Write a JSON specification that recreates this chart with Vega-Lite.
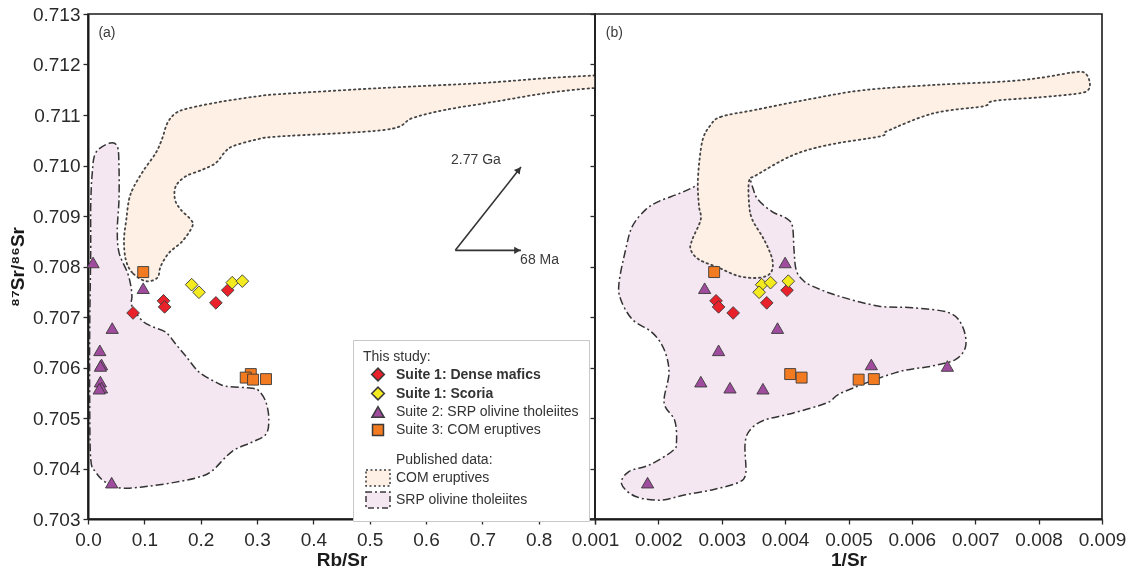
{
  "$schema": "https://vega.github.io/schema/vega-lite/v6.json",
  "autosize": {"type": "pad"},
  "padding": {"left": 7, "top": 4, "right": 5, "bottom": 0},
  "background": "white",
  "bounds": "flush",
  "spacing": 0,
  "config": {
    "font": "Liberation Sans",
    "view": {"stroke": "#1a1a1a", "strokeWidth": 1.6},
    "axis": {
      "labelFont": "Liberation Sans", "labelFontSize": 19, "labelColor": "#2a2a2a",
      "labelFlush": false, "labelOverlap": false, "labelPadding": 6,
      "tickColor": "#2a2a2a", "tickSize": 5, "tickWidth": 1.3,
      "domainColor": "#1a1a1a", "domainWidth": 2, "grid": false,
      "titleFont": "Liberation Sans", "titleFontSize": 19, "titleFontWeight": "bold", "titleColor": "#1a1a1a"
    },
    "legend": {
      "orient": "none", "legendX": 265, "legendY": 326,
      "titleFont": "Liberation Sans", "titleFontSize": 14, "titleFontWeight": "normal", "titleColor": "#333333", "titlePadding": 3,
      "labelFont": "Liberation Sans", "labelFontSize": 14, "labelColor": "#333333", "labelLimit": 320, "labelOffset": 9,
      "symbolOffset": 6, "rowPadding": 0, "padding": 10,
      "strokeColor": "#c8c8c8", "fillColor": "#ffffff"
    }
  },
  "datasets": {
    "samples": [
      {"group": "Suite 1: Dense mafics", "rbsr": 0.248, "invsr": 0.00403, "sr": 0.70753},
      {"group": "Suite 1: Dense mafics", "rbsr": 0.227, "invsr": 0.00371, "sr": 0.70728},
      {"group": "Suite 1: Dense mafics", "rbsr": 0.134, "invsr": 0.00291, "sr": 0.70732},
      {"group": "Suite 1: Dense mafics", "rbsr": 0.136, "invsr": 0.00295, "sr": 0.70720},
      {"group": "Suite 1: Dense mafics", "rbsr": 0.080, "invsr": 0.00318, "sr": 0.70708},
      {"group": "Suite 1: Scoria", "rbsr": 0.184, "invsr": 0.00363, "sr": 0.70764},
      {"group": "Suite 1: Scoria", "rbsr": 0.197, "invsr": 0.00359, "sr": 0.70749},
      {"group": "Suite 1: Scoria", "rbsr": 0.256, "invsr": 0.00377, "sr": 0.70768},
      {"group": "Suite 1: Scoria", "rbsr": 0.274, "invsr": 0.00405, "sr": 0.70771},
      {"group": "Suite 2: SRP olivine tholeiites", "rbsr": 0.009, "invsr": 0.00400, "sr": 0.70808},
      {"group": "Suite 2: SRP olivine tholeiites", "rbsr": 0.098, "invsr": 0.00273, "sr": 0.70757},
      {"group": "Suite 2: SRP olivine tholeiites", "rbsr": 0.043, "invsr": 0.00388, "sr": 0.70678},
      {"group": "Suite 2: SRP olivine tholeiites", "rbsr": 0.021, "invsr": 0.00295, "sr": 0.70634},
      {"group": "Suite 2: SRP olivine tholeiites", "rbsr": 0.024, "invsr": 0.00536, "sr": 0.70606},
      {"group": "Suite 2: SRP olivine tholeiites", "rbsr": 0.022, "invsr": 0.00656, "sr": 0.70603},
      {"group": "Suite 2: SRP olivine tholeiites", "rbsr": 0.022, "invsr": 0.00267, "sr": 0.70572},
      {"group": "Suite 2: SRP olivine tholeiites", "rbsr": 0.024, "invsr": 0.00313, "sr": 0.70560},
      {"group": "Suite 2: SRP olivine tholeiites", "rbsr": 0.020, "invsr": 0.00365, "sr": 0.70558},
      {"group": "Suite 2: SRP olivine tholeiites", "rbsr": 0.042, "invsr": 0.00183, "sr": 0.70372},
      {"group": "Suite 3: COM eruptives", "rbsr": 0.098, "invsr": 0.00288, "sr": 0.70789},
      {"group": "Suite 3: COM eruptives", "rbsr": 0.289, "invsr": 0.00408, "sr": 0.70587},
      {"group": "Suite 3: COM eruptives", "rbsr": 0.280, "invsr": 0.00426, "sr": 0.70580},
      {"group": "Suite 3: COM eruptives", "rbsr": 0.293, "invsr": 0.00516, "sr": 0.70576},
      {"group": "Suite 3: COM eruptives", "rbsr": 0.316, "invsr": 0.00540, "sr": 0.70577}
    ],
    "srp_a": [
      {"i": 1, "x": 0.0137, "y": 0.71025}, {"i": 2, "x": 0.0373, "y": 0.71044}, {"i": 3, "x": 0.052, "y": 0.71038},
      {"i": 4, "x": 0.055, "y": 0.70998}, {"i": 5, "x": 0.055, "y": 0.70932}, {"i": 6, "x": 0.052, "y": 0.70873},
      {"i": 7, "x": 0.055, "y": 0.70828}, {"i": 8, "x": 0.070, "y": 0.70788}, {"i": 9, "x": 0.076, "y": 0.70762},
      {"i": 10, "x": 0.078, "y": 0.70741}, {"i": 11, "x": 0.078, "y": 0.70722}, {"i": 12, "x": 0.096, "y": 0.70693},
      {"i": 13, "x": 0.114, "y": 0.70681}, {"i": 14, "x": 0.138, "y": 0.70670}, {"i": 15, "x": 0.156, "y": 0.70646},
      {"i": 16, "x": 0.174, "y": 0.70622}, {"i": 17, "x": 0.197, "y": 0.70591}, {"i": 18, "x": 0.227, "y": 0.70571},
      {"i": 19, "x": 0.245, "y": 0.70563}, {"i": 20, "x": 0.291, "y": 0.70559}, {"i": 21, "x": 0.304, "y": 0.70553},
      {"i": 22, "x": 0.316, "y": 0.70531}, {"i": 23, "x": 0.321, "y": 0.70498}, {"i": 24, "x": 0.316, "y": 0.70468},
      {"i": 25, "x": 0.291, "y": 0.70452}, {"i": 26, "x": 0.256, "y": 0.70434}, {"i": 27, "x": 0.220, "y": 0.70395},
      {"i": 28, "x": 0.197, "y": 0.70383}, {"i": 29, "x": 0.156, "y": 0.70373}, {"i": 30, "x": 0.108, "y": 0.70365},
      {"i": 31, "x": 0.061, "y": 0.70361}, {"i": 32, "x": 0.031, "y": 0.70373}, {"i": 33, "x": 0.0137, "y": 0.70393},
      {"i": 34, "x": 0.0048, "y": 0.70419}, {"i": 35, "x": 0.003, "y": 0.70537}, {"i": 36, "x": 0.003, "y": 0.70676},
      {"i": 37, "x": 0.0048, "y": 0.70828}, {"i": 38, "x": 0.0048, "y": 0.70919}, {"i": 39, "x": 0.0076, "y": 0.70986}
    ],
    "com_a": [
      {"i": 1, "x": 0.1025, "y": 0.70771}, {"i": 2, "x": 0.0787, "y": 0.707876}, {"i": 3, "x": 0.0670, "y": 0.708138},
      {"i": 4, "x": 0.0639, "y": 0.708534}, {"i": 5, "x": 0.0680, "y": 0.708929}, {"i": 6, "x": 0.0728, "y": 0.709324},
      {"i": 7, "x": 0.0817, "y": 0.709587}, {"i": 8, "x": 0.0995, "y": 0.709917}, {"i": 9, "x": 0.1202, "y": 0.710247},
      {"i": 10, "x": 0.1320, "y": 0.710543}, {"i": 11, "x": 0.1409, "y": 0.71084}, {"i": 12, "x": 0.1558, "y": 0.711038},
      {"i": 13, "x": 0.1794, "y": 0.711136}, {"i": 14, "x": 0.2385, "y": 0.711267}, {"i": 15, "x": 0.2979, "y": 0.711366},
      {"i": 16, "x": 0.3393, "y": 0.711413}, {"i": 17, "x": 0.5169, "y": 0.711532}, {"i": 18, "x": 0.6945, "y": 0.71163},
      {"i": 19, "x": 0.8130, "y": 0.711729}, {"i": 20, "x": 0.8957, "y": 0.711781}, {"i": 21, "x": 0.95, "y": 0.711814},
      {"i": 22, "x": 0.95, "y": 0.711557}, {"i": 23, "x": 0.8957, "y": 0.711532}, {"i": 24, "x": 0.8130, "y": 0.711433},
      {"i": 25, "x": 0.7242, "y": 0.711267}, {"i": 26, "x": 0.6353, "y": 0.711103}, {"i": 27, "x": 0.5760, "y": 0.710939},
      {"i": 28, "x": 0.5288, "y": 0.710708}, {"i": 29, "x": 0.3393, "y": 0.710575}, {"i": 30, "x": 0.2979, "y": 0.71051},
      {"i": 31, "x": 0.2563, "y": 0.710377}, {"i": 32, "x": 0.2416, "y": 0.710247}, {"i": 33, "x": 0.2268, "y": 0.710049},
      {"i": 34, "x": 0.2030, "y": 0.709917}, {"i": 35, "x": 0.1735, "y": 0.709785}, {"i": 36, "x": 0.1558, "y": 0.709587},
      {"i": 37, "x": 0.1545, "y": 0.709324}, {"i": 38, "x": 0.1647, "y": 0.709126}, {"i": 39, "x": 0.1824, "y": 0.708929},
      {"i": 40, "x": 0.1853, "y": 0.708796}, {"i": 41, "x": 0.1675, "y": 0.7085}, {"i": 42, "x": 0.1439, "y": 0.708271},
      {"i": 43, "x": 0.1291, "y": 0.708006}, {"i": 44, "x": 0.1231, "y": 0.707777}
    ],
    "com_b": [
      {"i": 1, "x": 0.002818, "y": 0.710789}, {"i": 2, "x": 0.002985, "y": 0.710964}, {"i": 3, "x": 0.003545, "y": 0.711105},
      {"i": 4, "x": 0.004385, "y": 0.711314}, {"i": 5, "x": 0.005224, "y": 0.71149}, {"i": 6, "x": 0.006343, "y": 0.711595},
      {"i": 7, "x": 0.007462, "y": 0.711664}, {"i": 8, "x": 0.008022, "y": 0.711735}, {"i": 9, "x": 0.008525, "y": 0.71184},
      {"i": 10, "x": 0.008721, "y": 0.71184}, {"i": 11, "x": 0.008804, "y": 0.711664}, {"i": 12, "x": 0.008778, "y": 0.71149},
      {"i": 13, "x": 0.008582, "y": 0.711419}, {"i": 14, "x": 0.008022, "y": 0.71135}, {"i": 15, "x": 0.007294, "y": 0.711279},
      {"i": 16, "x": 0.007127, "y": 0.711174}, {"i": 17, "x": 0.006343, "y": 0.711034}, {"i": 18, "x": 0.005615, "y": 0.710684},
      {"i": 19, "x": 0.005503, "y": 0.710579}, {"i": 20, "x": 0.004664, "y": 0.710403}, {"i": 21, "x": 0.004105, "y": 0.710194},
      {"i": 22, "x": 0.003545, "y": 0.709808}, {"i": 23, "x": 0.003433, "y": 0.709702}, {"i": 24, "x": 0.00343, "y": 0.709259},
      {"i": 25, "x": 0.003482, "y": 0.708929}, {"i": 26, "x": 0.003667, "y": 0.708534}, {"i": 27, "x": 0.003798, "y": 0.708138},
      {"i": 28, "x": 0.003772, "y": 0.707875}, {"i": 29, "x": 0.003588, "y": 0.707777}, {"i": 30, "x": 0.003272, "y": 0.707808},
      {"i": 31, "x": 0.002957, "y": 0.707974}, {"i": 32, "x": 0.002641, "y": 0.708138}, {"i": 33, "x": 0.00251, "y": 0.708336},
      {"i": 34, "x": 0.002535, "y": 0.708534}, {"i": 35, "x": 0.002668, "y": 0.708929}, {"i": 36, "x": 0.002641, "y": 0.709192},
      {"i": 37, "x": 0.002622, "y": 0.709632}, {"i": 38, "x": 0.00265, "y": 0.710123}, {"i": 39, "x": 0.002706, "y": 0.710543}
    ],
    "srp_b": [
      {"i": 1, "x": 0.003321, "y": 0.710213}, {"i": 2, "x": 0.003405, "y": 0.709913}, {"i": 3, "x": 0.00349, "y": 0.709561},
      {"i": 4, "x": 0.003572, "y": 0.709324}, {"i": 5, "x": 0.003793, "y": 0.709087}, {"i": 6, "x": 0.004009, "y": 0.708962},
      {"i": 7, "x": 0.004113, "y": 0.70881}, {"i": 8, "x": 0.00414, "y": 0.708336}, {"i": 9, "x": 0.004172, "y": 0.707941},
      {"i": 10, "x": 0.004271, "y": 0.707743}, {"i": 11, "x": 0.004429, "y": 0.707611}, {"i": 12, "x": 0.00485, "y": 0.707413},
      {"i": 13, "x": 0.005481, "y": 0.707215}, {"i": 14, "x": 0.006007, "y": 0.707184}, {"i": 15, "x": 0.006586, "y": 0.707085},
      {"i": 16, "x": 0.006796, "y": 0.70682}, {"i": 17, "x": 0.006849, "y": 0.706425}, {"i": 18, "x": 0.006692, "y": 0.706162},
      {"i": 19, "x": 0.006322, "y": 0.70603}, {"i": 20, "x": 0.005745, "y": 0.705899}, {"i": 21, "x": 0.004902, "y": 0.705504},
      {"i": 22, "x": 0.004664, "y": 0.705302}, {"i": 23, "x": 0.004105, "y": 0.705091}, {"i": 24, "x": 0.003657, "y": 0.704951},
      {"i": 25, "x": 0.003433, "y": 0.704741}, {"i": 26, "x": 0.003367, "y": 0.704461}, {"i": 27, "x": 0.003378, "y": 0.703899},
      {"i": 28, "x": 0.003266, "y": 0.703725}, {"i": 29, "x": 0.002875, "y": 0.703585}, {"i": 30, "x": 0.002426, "y": 0.70348},
      {"i": 31, "x": 0.002035, "y": 0.703374}, {"i": 32, "x": 0.001642, "y": 0.703445}, {"i": 33, "x": 0.00142, "y": 0.70369},
      {"i": 34, "x": 0.00153, "y": 0.703935}, {"i": 35, "x": 0.001866, "y": 0.704075}, {"i": 36, "x": 0.002231, "y": 0.704356},
      {"i": 37, "x": 0.002286, "y": 0.70453}, {"i": 38, "x": 0.002258, "y": 0.704951}, {"i": 39, "x": 0.00209, "y": 0.705302},
      {"i": 40, "x": 0.002168, "y": 0.705899}, {"i": 41, "x": 0.002089, "y": 0.70636}, {"i": 42, "x": 0.001904, "y": 0.70669},
      {"i": 43, "x": 0.001589, "y": 0.706953}, {"i": 44, "x": 0.001406, "y": 0.707348}, {"i": 45, "x": 0.001379, "y": 0.707678},
      {"i": 46, "x": 0.001484, "y": 0.708336}, {"i": 47, "x": 0.001589, "y": 0.708796}, {"i": 48, "x": 0.0018, "y": 0.709126},
      {"i": 49, "x": 0.00201, "y": 0.709291}, {"i": 50, "x": 0.002325, "y": 0.709443}, {"i": 51, "x": 0.002594, "y": 0.709601},
      {"i": 52, "x": 0.002846, "y": 0.709818}, {"i": 53, "x": 0.003097, "y": 0.710194}
    ],
    "arrows": [
      {"name": "2.77 Ga", "x": 0.652, "y": 0.70832, "x2": 0.7686, "y2": 0.70997},
      {"name": "68 Ma", "x": 0.652, "y": 0.70832, "x2": 0.7686, "y2": 0.70832}
    ],
    "heads": [
      {"name": "2.77 Ga", "x": 0.7647, "y": 0.709915},
      {"name": "68 Ma", "x": 0.7623, "y": 0.70832}
    ],
    "notes_a": [
      {"text": "2.77 Ga", "x": 0.6886, "y": 0.710115},
      {"text": "68 Ma", "x": 0.8016, "y": 0.708125},
      {"text": "(a)", "x": 0.0337, "y": 0.71262}
    ],
    "notes_b": [
      {"text": "(b)", "x": 0.001306, "y": 0.71262}
    ]
  },
  "hconcat": [
    {
      "width": 507,
      "height": 505,
      "layer": [
        {
          "data": {"name": "srp_a"},
          "mark": {"type": "line", "interpolate": "cardinal-closed", "fill": "#f5e7f1", "stroke": "#333333", "strokeWidth": 1.5, "strokeDash": [8, 3, 2, 3], "clip": true, "blend": "multiply"},
          "encoding": {
            "x": {"field": "x", "type": "quantitative", "scale": {"domain": [0, 0.9], "nice": false, "zero": false},
                  "axis": {"values": [0, 0.1, 0.2, 0.3, 0.4, 0.5, 0.6, 0.7, 0.8, 0.9], "format": ".1f", "labelExpr": "datum.value > 0.85 ? '' : datum.label", "titlePadding": 1}, "title": "Rb/Sr"},
            "y": {"field": "y", "type": "quantitative", "scale": {"domain": [0.703, 0.713], "nice": false, "zero": false},
                  "axis": {"values": [0.703, 0.704, 0.705, 0.706, 0.707, 0.708, 0.709, 0.71, 0.711, 0.712, 0.713], "format": ".3f", "labelPadding": 3, "titlePadding": 5}, "title": "⁸⁷Sr/⁸⁶Sr"},
            "order": {"field": "i", "type": "quantitative"}
          }
        },
        {
          "data": {"name": "com_a"},
          "mark": {"type": "line", "interpolate": "cardinal-closed", "fill": "#fef0e4", "stroke": "#444444", "strokeWidth": 1.8, "strokeDash": [1.5, 3.5], "strokeCap": "round", "clip": true, "blend": "multiply"},
          "encoding": {
            "x": {"field": "x", "type": "quantitative", "title": "Rb/Sr"},
            "y": {"field": "y", "type": "quantitative", "title": "⁸⁷Sr/⁸⁶Sr"},
            "order": {"field": "i", "type": "quantitative"}
          }
        },
        {
          "data": {"name": "arrows"},
          "mark": {"type": "rule", "color": "#333333", "strokeWidth": 1.6},
          "encoding": {
            "x": {"field": "x", "type": "quantitative", "title": "Rb/Sr"},
            "y": {"field": "y", "type": "quantitative", "title": "⁸⁷Sr/⁸⁶Sr"},
            "x2": {"field": "x2"},
            "y2": {"field": "y2"}
          }
        },
        {
          "data": {"name": "heads"},
          "transform": [{"filter": "datum.name === '2.77 Ga'"}],
          "mark": {"type": "point", "shape": "triangle-right", "filled": true, "color": "#333333", "size": 55, "angle": 308, "opacity": 1},
          "encoding": {
            "x": {"field": "x", "type": "quantitative", "title": "Rb/Sr"},
            "y": {"field": "y", "type": "quantitative", "title": "⁸⁷Sr/⁸⁶Sr"}
          }
        },
        {
          "data": {"name": "heads"},
          "transform": [{"filter": "datum.name === '68 Ma'"}],
          "mark": {"type": "point", "shape": "triangle-right", "filled": true, "color": "#333333", "size": 55, "opacity": 1},
          "encoding": {
            "x": {"field": "x", "type": "quantitative", "title": "Rb/Sr"},
            "y": {"field": "y", "type": "quantitative", "title": "⁸⁷Sr/⁸⁶Sr"}
          }
        },
        {
          "data": {"name": "notes_a"},
          "mark": {"type": "text", "font": "Liberation Sans", "fontSize": 14, "color": "#3a3a3a", "align": "center", "baseline": "middle"},
          "encoding": {
            "x": {"field": "x", "type": "quantitative", "title": "Rb/Sr"},
            "y": {"field": "y", "type": "quantitative", "title": "⁸⁷Sr/⁸⁶Sr"},
            "text": {"field": "text"}
          }
        },
        {
          "data": {"name": "samples"},
          "mark": {"type": "point", "filled": true, "stroke": "#3a3a3a", "strokeWidth": 0.9, "opacity": 1},
          "encoding": {
            "x": {"field": "rbsr", "type": "quantitative", "title": "Rb/Sr"},
            "y": {"field": "sr", "type": "quantitative", "title": "⁸⁷Sr/⁸⁶Sr"},
            "color": {"field": "group", "type": "nominal",
              "scale": {"domain": ["Suite 1: Dense mafics", "Suite 1: Scoria", "Suite 2: SRP olivine tholeiites", "Suite 3: COM eruptives", " ", "Published data:", "COM eruptives", "SRP olivine tholeiites"],
                        "range": ["#e8212b", "#f3ea1f", "#a04c9e", "#f27b21", "#ffffff", "#ffffff", "#fef0e4", "#f5e7f1"]},
              "legend": {
                "title": "\u00a0\u00a0\u00a0\u00a0\u00a0\u00a0\u00a0\u00a0This study:",
                "labelFontWeight": {"expr": "indexof(datum.label, 'Suite 1') === 0 ? 'bold' : 'normal'"},
                "symbolDash": {"expr": "datum.value === 'COM eruptives' ? [2, 2.5] : (datum.value === 'SRP olivine tholeiites' ? [6, 3, 2, 3] : [])"}
              }
            },
            "shape": {"field": "group", "type": "nominal",
              "scale": {"domain": ["Suite 1: Dense mafics", "Suite 1: Scoria", "Suite 2: SRP olivine tholeiites", "Suite 3: COM eruptives", " ", "Published data:", "COM eruptives", "SRP olivine tholeiites"],
                        "range": ["diamond", "diamond", "triangle-up", "square", "M0,0L0,0", "M0,0L0,0", "M-1.5,-1H1.5V1H-1.5Z", "M-1.5,-1H1.5V1H-1.5Z"]},
              "legend": {
                "title": "\u00a0\u00a0\u00a0\u00a0\u00a0\u00a0\u00a0\u00a0This study:",
                "labelFontWeight": {"expr": "indexof(datum.label, 'Suite 1') === 0 ? 'bold' : 'normal'"},
                "symbolDash": {"expr": "datum.value === 'COM eruptives' ? [2, 2.5] : (datum.value === 'SRP olivine tholeiites' ? [6, 3, 2, 3] : [])"}
              }
            },
            "size": {"field": "group", "type": "nominal",
              "scale": {"type": "ordinal", "domain": ["Suite 1: Dense mafics", "Suite 1: Scoria", "Suite 2: SRP olivine tholeiites", "Suite 3: COM eruptives", " ", "Published data:", "COM eruptives", "SRP olivine tholeiites"],
                        "range": [160, 160, 150, 120, 4, 4, 256, 256]},
              "legend": {
                "title": "\u00a0\u00a0\u00a0\u00a0\u00a0\u00a0\u00a0\u00a0This study:",
                "labelFontWeight": {"expr": "indexof(datum.label, 'Suite 1') === 0 ? 'bold' : 'normal'"},
                "symbolDash": {"expr": "datum.value === 'COM eruptives' ? [2, 2.5] : (datum.value === 'SRP olivine tholeiites' ? [6, 3, 2, 3] : [])"}
              }
            }
          }
        }
      ]
    },
    {
      "width": 507,
      "height": 505,
      "layer": [
        {
          "data": {"name": "srp_b"},
          "mark": {"type": "line", "interpolate": "cardinal-closed", "fill": "#f5e7f1", "stroke": "#333333", "strokeWidth": 1.5, "strokeDash": [8, 3, 2, 3], "clip": true, "blend": "multiply"},
          "encoding": {
            "x": {"field": "x", "type": "quantitative", "scale": {"domain": [0.001, 0.009], "nice": false, "zero": false},
                  "axis": {"values": [0.001, 0.002, 0.003, 0.004, 0.005, 0.006, 0.007, 0.008, 0.009], "format": ".3f", "titlePadding": 1}, "title": "1/Sr"},
            "y": {"field": "y", "type": "quantitative", "scale": {"domain": [0.703, 0.713], "nice": false, "zero": false},
                  "axis": {"values": [0.703, 0.704, 0.705, 0.706, 0.707, 0.708, 0.709, 0.71, 0.711, 0.712, 0.713], "labels": false, "domain": false}, "title": null},
            "order": {"field": "i", "type": "quantitative"}
          }
        },
        {
          "data": {"name": "com_b"},
          "mark": {"type": "line", "interpolate": "cardinal-closed", "fill": "#fef0e4", "stroke": "#444444", "strokeWidth": 1.8, "strokeDash": [1.5, 3.5], "strokeCap": "round", "clip": true, "blend": "multiply"},
          "encoding": {
            "x": {"field": "x", "type": "quantitative", "title": "1/Sr"},
            "y": {"field": "y", "type": "quantitative", "title": null},
            "order": {"field": "i", "type": "quantitative"}
          }
        },
        {
          "data": {"name": "notes_b"},
          "mark": {"type": "text", "font": "Liberation Sans", "fontSize": 14, "color": "#3a3a3a", "align": "center", "baseline": "middle"},
          "encoding": {
            "x": {"field": "x", "type": "quantitative", "title": "1/Sr"},
            "y": {"field": "y", "type": "quantitative", "title": null},
            "text": {"field": "text"}
          }
        },
        {
          "data": {"name": "samples"},
          "mark": {"type": "point", "filled": true, "stroke": "#3a3a3a", "strokeWidth": 0.9, "opacity": 1},
          "encoding": {
            "x": {"field": "invsr", "type": "quantitative", "title": "1/Sr"},
            "y": {"field": "sr", "type": "quantitative", "title": null},
            "color": {"field": "group", "type": "nominal"},
            "shape": {"field": "group", "type": "nominal"},
            "size": {"field": "group", "type": "nominal", "scale": {"type": "ordinal"}}
          }
        }
      ]
    }
  ]
}
